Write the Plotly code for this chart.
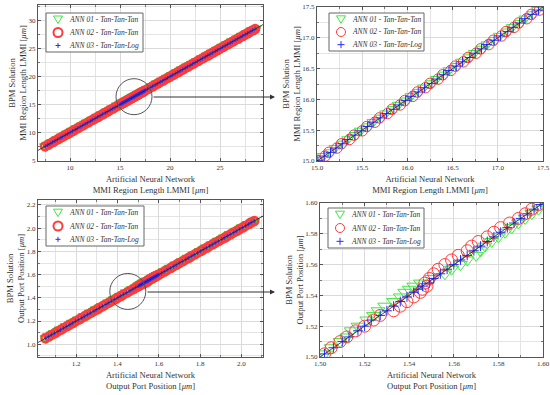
import plotly.graph_objects as go

# ---------------- data: MMI region length (top row) ----------------
bpm_lmmi_low = [7.52, 7.78, 8.01, 8.27, 8.49, 8.76, 9.02, 9.25, 9.51, 9.77, 10.00, 10.26, 10.52, 10.74, 11.01,
                11.27, 11.50, 11.76, 12.02, 12.25, 12.51, 12.77, 13.00, 13.26, 13.52, 13.75, 14.01, 14.27, 14.50, 14.76]
bpm_lmmi_mid = [15.01, 15.08, 15.14, 15.21, 15.28, 15.35, 15.42, 15.49, 15.56, 15.63, 15.70, 15.77, 15.84, 15.91,
                15.98, 16.05, 16.12, 16.19, 16.26, 16.33, 16.40, 16.47, 16.54, 16.61, 16.68, 16.75, 16.82, 16.89,
                16.96, 17.03, 17.10, 17.17, 17.24, 17.31, 17.38, 17.45]
bpm_lmmi_high = [17.52, 17.76, 18.02, 18.27, 18.51, 18.75, 19.01, 19.26, 19.50, 19.76, 20.02, 20.25, 20.51, 20.77,
                 21.00, 21.26, 21.52, 21.75, 22.01, 22.27, 22.50, 22.76, 23.02, 23.25, 23.51, 23.77, 24.00, 24.26,
                 24.52, 24.75, 25.01, 25.27, 25.50, 25.76, 26.02, 26.25, 26.51, 26.77, 27.00, 27.26, 27.52, 27.75,
                 28.01, 28.27, 28.50]

ann1_lmmi_low = [7.55, 7.75, 8.04, 8.24, 8.52, 8.73, 9.05, 9.22, 9.54, 9.74, 10.03, 10.23, 10.55, 10.71, 11.04,
                 11.24, 11.53, 11.73, 12.05, 12.22, 12.54, 12.74, 13.03, 13.23, 13.55, 13.72, 14.04, 14.24, 14.53, 14.73]
ann1_lmmi_mid = [15.02, 15.07, 15.15, 15.20, 15.29, 15.34, 15.43, 15.48, 15.57, 15.62, 15.71, 15.76, 15.85, 15.90,
                 15.99, 16.04, 16.13, 16.18, 16.27, 16.32, 16.41, 16.46, 16.55, 16.60, 16.69, 16.74, 16.83, 16.88,
                 16.97, 17.02, 17.11, 17.16, 17.25, 17.30, 17.39, 17.44]
ann1_lmmi_high = [17.55, 17.73, 18.05, 18.24, 18.54, 18.72, 19.04, 19.23, 19.53, 19.73, 20.05, 20.22, 20.54, 20.74,
                  21.03, 21.23, 21.55, 21.72, 22.04, 22.24, 22.53, 22.73, 23.05, 23.22, 23.54, 23.74, 24.03, 24.23,
                  24.55, 24.72, 25.04, 25.24, 25.53, 25.73, 26.05, 26.22, 26.54, 26.74, 27.03, 27.23, 27.55, 27.72,
                  28.04, 28.24, 28.53]

ann2_lmmi_low = [7.50, 7.80, 7.99, 8.29, 8.47, 8.78, 9.00, 9.27, 9.49, 9.79, 9.98, 10.28, 10.50, 10.76, 10.99,
                 11.29, 11.48, 11.78, 12.00, 12.27, 12.49, 12.79, 12.98, 13.28, 13.50, 13.77, 13.99, 14.29, 14.48, 14.78]
ann2_lmmi_mid = [15.00, 15.09, 15.13, 15.22, 15.27, 15.36, 15.41, 15.50, 15.55, 15.64, 15.69, 15.78, 15.83, 15.92,
                 15.97, 16.06, 16.11, 16.20, 16.25, 16.34, 16.39, 16.48, 16.53, 16.62, 16.67, 16.76, 16.81, 16.90,
                 16.95, 17.04, 17.09, 17.18, 17.23, 17.32, 17.37, 17.46]
ann2_lmmi_high = [17.50, 17.78, 18.00, 18.29, 18.49, 18.77, 18.99, 19.28, 19.48, 19.78, 20.00, 20.27, 20.49, 20.79,
                  20.98, 21.28, 21.50, 21.77, 21.99, 22.29, 22.48, 22.78, 23.00, 23.27, 23.49, 23.79, 23.98, 24.28,
                  24.50, 24.77, 24.99, 25.29, 25.48, 25.78, 26.00, 26.27, 26.49, 26.79, 26.98, 27.28, 27.50, 27.77,
                  27.99, 28.29, 28.52]

ann3_lmmi_low = [7.53, 7.77, 8.02, 8.26, 8.50, 8.75, 9.03, 9.24, 9.52, 9.76, 10.01, 10.25, 10.53, 10.73, 11.02,
                 11.26, 11.51, 11.75, 12.03, 12.24, 12.52, 12.76, 13.01, 13.25, 13.53, 13.74, 14.02, 14.26, 14.51, 14.75]
ann3_lmmi_mid = [15.01, 15.08, 15.15, 15.21, 15.28, 15.34, 15.42, 15.49, 15.56, 15.62, 15.70, 15.77, 15.85, 15.91,
                 15.98, 16.04, 16.12, 16.19, 16.27, 16.33, 16.40, 16.46, 16.54, 16.61, 16.69, 16.75, 16.82, 16.88,
                 16.96, 17.03, 17.11, 17.17, 17.24, 17.30, 17.38, 17.45]
ann3_lmmi_high = [17.53, 17.75, 18.03, 18.26, 18.52, 18.74, 19.02, 19.25, 19.51, 19.75, 20.03, 20.24, 20.52, 20.76,
                  21.01, 21.25, 21.53, 21.74, 22.02, 22.26, 22.51, 22.75, 23.03, 23.24, 23.52, 23.76, 24.01, 24.25,
                  24.53, 24.74, 25.02, 25.26, 25.51, 25.75, 26.03, 26.24, 26.52, 26.76, 27.01, 27.25, 27.53, 27.74,
                  28.02, 28.26, 28.51]

# ---------------- data: output port position (bottom row) ----------------
bpm_pos_low = [1.052, 1.066, 1.081, 1.095, 1.110, 1.124, 1.139, 1.154, 1.168, 1.183, 1.197, 1.212, 1.226, 1.241,
               1.256, 1.270, 1.285, 1.299, 1.314, 1.328, 1.343, 1.358, 1.372, 1.387, 1.401, 1.416, 1.430, 1.445,
               1.460, 1.474, 1.489]
bpm_pos_mid = [1.502, 1.506, 1.510, 1.513, 1.517, 1.520, 1.524, 1.527, 1.530, 1.533, 1.536, 1.539, 1.542, 1.544,
               1.546, 1.548, 1.551, 1.554, 1.557, 1.560, 1.563, 1.566, 1.569, 1.572, 1.575, 1.578, 1.581, 1.584,
               1.587, 1.590, 1.593, 1.596, 1.599]
bpm_pos_high = [1.612, 1.627, 1.641, 1.656, 1.670, 1.685, 1.700, 1.714, 1.729, 1.743, 1.758, 1.772, 1.787, 1.802,
                1.816, 1.831, 1.845, 1.860, 1.874, 1.889, 1.904, 1.918, 1.933, 1.947, 1.962, 1.976, 1.991, 2.006,
                2.020, 2.035, 2.049, 2.062]

ann1_pos_low = [1.054, 1.064, 1.083, 1.093, 1.112, 1.122, 1.141, 1.152, 1.170, 1.181, 1.199, 1.210, 1.228, 1.239,
                1.258, 1.268, 1.287, 1.297, 1.316, 1.326, 1.345, 1.356, 1.374, 1.385, 1.403, 1.414, 1.432, 1.443,
                1.462, 1.472, 1.491]
ann1_pos_mid = [1.502, 1.505, 1.509, 1.512, 1.514, 1.517, 1.521, 1.524, 1.526, 1.529, 1.533, 1.536, 1.538, 1.540,
                1.542, 1.545, 1.550, 1.556, 1.559, 1.563, 1.566, 1.570, 1.572, 1.574, 1.577, 1.580, 1.583, 1.586,
                1.589, 1.592, 1.595, 1.598, 1.601]
ann1_pos_high = [1.614, 1.625, 1.643, 1.654, 1.672, 1.683, 1.702, 1.712, 1.731, 1.741, 1.760, 1.770, 1.789, 1.800,
                 1.818, 1.829, 1.847, 1.858, 1.876, 1.887, 1.906, 1.916, 1.935, 1.945, 1.964, 1.974, 1.993, 2.004,
                 2.022, 2.033, 2.051, 2.060]

ann2_pos_low = [1.051, 1.067, 1.080, 1.096, 1.109, 1.125, 1.138, 1.155, 1.167, 1.184, 1.196, 1.213, 1.225, 1.242,
                1.255, 1.271, 1.284, 1.300, 1.313, 1.329, 1.342, 1.359, 1.371, 1.388, 1.400, 1.417, 1.429, 1.446,
                1.459, 1.475, 1.488]
ann2_pos_mid = [1.502, 1.505, 1.509, 1.512, 1.516, 1.520, 1.524, 1.527, 1.533, 1.536, 1.539, 1.542, 1.545, 1.546,
                1.548, 1.547, 1.549, 1.551, 1.553, 1.556, 1.559, 1.562, 1.566, 1.568, 1.571, 1.575, 1.578, 1.581,
                1.585, 1.589, 1.592, 1.595, 1.598]
ann2_pos_high = [1.611, 1.628, 1.640, 1.657, 1.669, 1.686, 1.699, 1.715, 1.728, 1.744, 1.757, 1.773, 1.786, 1.803,
                 1.815, 1.832, 1.844, 1.861, 1.873, 1.890, 1.903, 1.919, 1.932, 1.948, 1.961, 1.977, 1.990, 2.007,
                 2.019, 2.036, 2.048, 2.063]

ann3_pos_low = [1.053, 1.066, 1.080, 1.095, 1.111, 1.124, 1.138, 1.154, 1.169, 1.183, 1.196, 1.212, 1.227, 1.241,
                1.255, 1.270, 1.286, 1.299, 1.313, 1.328, 1.344, 1.358, 1.371, 1.387, 1.402, 1.416, 1.429, 1.445,
                1.461, 1.474, 1.488]
ann3_pos_mid = [1.502, 1.506, 1.510, 1.513, 1.517, 1.520, 1.523, 1.527, 1.530, 1.533, 1.536, 1.539, 1.542, 1.544,
                1.546, 1.549, 1.551, 1.554, 1.557, 1.560, 1.563, 1.566, 1.569, 1.572, 1.575, 1.578, 1.581, 1.584,
                1.587, 1.590, 1.593, 1.596, 1.599]
ann3_pos_high = [1.613, 1.627, 1.640, 1.656, 1.671, 1.685, 1.699, 1.714, 1.730, 1.743, 1.757, 1.772, 1.788, 1.802,
                 1.815, 1.831, 1.846, 1.860, 1.873, 1.889, 1.905, 1.918, 1.932, 1.947, 1.963, 1.976, 1.990, 2.006,
                 2.021, 2.035, 2.048, 2.062]

series_names = ["ANN 01 - Tan-Tan-Tan", "ANN 02 - Tan-Tan-Tan", "ANN 03 - Tan-Tan-Log"]

# ---------------- layout helpers ----------------
W, H = 550, 395
FONT = "Liberation Serif"

def fx(p):
    return p / W

def fy(p):
    return 1 - p / H

bpm_lmmi = bpm_lmmi_low + bpm_lmmi_mid + bpm_lmmi_high
bpm_pos = bpm_pos_low + bpm_pos_mid + bpm_pos_high
ann_lmmi = [ann1_lmmi_low + ann1_lmmi_mid + ann1_lmmi_high,
            ann2_lmmi_low + ann2_lmmi_mid + ann2_lmmi_high,
            ann3_lmmi_low + ann3_lmmi_mid + ann3_lmmi_high]
ann_pos = [ann1_pos_low + ann1_pos_mid + ann1_pos_high,
           ann2_pos_low + ann2_pos_mid + ann2_pos_high,
           ann3_pos_low + ann3_pos_mid + ann3_pos_high]

# panel: suffix, pixel box (l, r, t, b), x range, y range, major dtick, minor dtick, format, data,
#        legend box (left, top, width, height) in px, zoomed?
panels = [
    ("", (38, 263, 5, 161), [6.8, 29.3], [4.9, 32.8], 5, 2.5, "d", "lmmi", (46, 13, 97, 39), False),
    ("2", (317, 543, 7, 161), [15.0, 17.5], [15.0, 17.5], 0.5, 0.25, ".1f", "lmmi", (329, 13, 95, 38), True),
    ("3", (38, 263, 200, 357), [1.015, 2.105], [0.89, 2.243], 0.2, 0.1, ".1f", "pos", (46, 206, 98, 40), False),
    ("4", (320, 543, 203, 357), [1.50, 1.60], [1.50, 1.60], 0.02, 0.01, ".2f", "pos", (328, 208, 96, 40), True),
]

colors = ["#3ee83e", "#ff3b3b", "#2a2aff"]
symbols = ["triangle-down-open", "circle-open", "cross-thin-open"]

fig = go.Figure()
layout = dict(
    width=W, height=H,
    margin=dict(l=0, r=0, t=0, b=0, autoexpand=False),
    paper_bgcolor="white", plot_bgcolor="white",
    font=dict(family=FONT, color="#333333"),
    showlegend=False,
)

xtitle = {"lmmi": "Artificial Neural Network<br>MMI Region Length LMMI [<i>μm</i>]",
          "pos": "Artificial Neural Network<br>Output Port Position [<i>μm</i>]"}
ytitle = {"lmmi": "BPM Solution<br>MMI Region Length LMMI [<i>μm</i>]",
          "pos": "BPM Solution<br>Output Port Position [<i>μm</i>]"}

shapes = []
annotations = []
for suf, (l, r, t, b), xr, yr, dt, mdt, tf, key, (lx, ly, lw, lh), zoomed in panels:
    xs = ann_lmmi if key == "lmmi" else ann_pos
    ys = bpm_lmmi if key == "lmmi" else bpm_pos
    if zoomed:
        big = 12 if key == "pos" else 10.5
        sizes = [big, big, 7]
        widths = [1, 1, 1]
    else:
        sizes = [10, 8, 3]
        widths = [1.5, 2.4, 0.8]
    for i in range(3):
        fig.add_trace(go.Scatter(
            x=xs[i], y=ys, mode="markers", name=series_names[i],
            xaxis="x" + suf, yaxis="y" + suf,
            marker=dict(symbol=symbols[i], size=sizes[i], color=colors[i],
                        line=dict(width=widths[i], color=colors[i])),
        ))
    axis_common = dict(
        showline=True, linecolor="#555555", linewidth=1, mirror="allticks",
        ticks="inside", ticklen=3, tickcolor="#555555", tickwidth=1,
        showgrid=True, gridcolor="#dadada", gridwidth=1, zeroline=False,
        tickfont=dict(family=FONT, size=7, color="#333333"),
        dtick=dt, tickformat=tf, automargin=False,
        minor=dict(dtick=mdt, showgrid=True, gridcolor="#e4e4e4", ticks="inside", ticklen=2, tickcolor="#777777"),
    )
    layout["xaxis" + suf] = dict(
        axis_common, domain=[fx(l), fx(r)], range=xr, anchor="y" + suf, tick0=0,
        title=dict(text=xtitle[key], font=dict(family=FONT, size=8.6, color="#333333"), standoff=4),
    )
    layout["yaxis" + suf] = dict(
        axis_common, domain=[fy(b), fy(t)], range=yr, anchor="x" + suf, tick0=0,
        title=dict(text=ytitle[key], font=dict(family=FONT, size=8.6, color="#333333"), standoff=0),
    )
    # y = x reference line across the panel
    shapes.append(dict(type="line", xref="x" + suf, yref="y" + suf,
                       x0=xr[0], y0=xr[0], x1=xr[1], y1=xr[1],
                       line=dict(color="#222222", width=0.8), layer="above"))

    # compact legend box drawn in paper space
    shapes.append(dict(type="rect", xref="paper", yref="paper",
                       x0=fx(lx), x1=fx(lx + lw), y0=fy(ly + lh), y1=fy(ly),
                       fillcolor="white", line=dict(color="#666666", width=1), layer="above"))
    row_step = lh / 3.0
    sx = lx + 12
    for i in range(3):
        cy = ly + row_step * (i + 0.5)
        if i == 0:
            path = "M {} {} L {} {} L {} {} Z".format(fx(sx - 4.5), fy(cy - 3.5), fx(sx + 4.5), fy(cy - 3.5),
                                                      fx(sx), fy(cy + 4))
            shapes.append(dict(type="path", xref="paper", yref="paper", path=path,
                               line=dict(color=colors[0], width=1), layer="above"))
        elif i == 1:
            shapes.append(dict(type="circle", xref="paper", yref="paper",
                               x0=fx(sx - 4.5), x1=fx(sx + 4.5), y0=fy(cy + 4.5), y1=fy(cy - 4.5),
                               line=dict(color=colors[1], width=1 if zoomed else 2), layer="above"))
        else:
            hl = 3.5 if zoomed else 2.5
            shapes.append(dict(type="line", xref="paper", yref="paper",
                               x0=fx(sx - hl), x1=fx(sx + hl), y0=fy(cy), y1=fy(cy),
                               line=dict(color=colors[2], width=1), layer="above"))
            shapes.append(dict(type="line", xref="paper", yref="paper",
                               x0=fx(sx), x1=fx(sx), y0=fy(cy - hl), y1=fy(cy + hl),
                               line=dict(color=colors[2], width=1), layer="above"))
        annotations.append(dict(x=fx(lx + 22), y=fy(cy), xref="paper", yref="paper",
                                xanchor="left", yanchor="middle", showarrow=False,
                                text=series_names[i], borderpad=0,
                                font=dict(family=FONT, size=7.5, style="italic", color="#333333")))

# zoom circles on the full-range panels
zoom_centers = [("", 16.4, 16.4), ("3", 1.45, 1.455)]
for suf, cx, cy in zoom_centers:
    shapes.append(dict(type="circle", xref="x" + suf, yref="y" + suf,
                       xsizemode="pixel", ysizemode="pixel", xanchor=cx, yanchor=cy,
                       x0=-18, x1=18, y0=-18, y1=18,
                       line=dict(color="#555555", width=1), layer="above"))

annotations += [
    dict(x=fx(275), y=fy(97), xref="paper", yref="paper", text="", showarrow=True,
         ax=-123, ay=0, arrowhead=2, arrowsize=1, arrowwidth=1, arrowcolor="#333333"),
    dict(x=fx(275), y=fy(292), xref="paper", yref="paper", text="", showarrow=True,
         ax=-129, ay=0, arrowhead=2, arrowsize=1, arrowwidth=1, arrowcolor="#333333"),
]
layout["shapes"] = shapes
layout["annotations"] = annotations

fig.update_layout(**layout)
fig.write_html("out.html", config={"displayModeBar": False},
               post_script="document.body.style.margin='0';document.body.style.overflow='hidden';")
